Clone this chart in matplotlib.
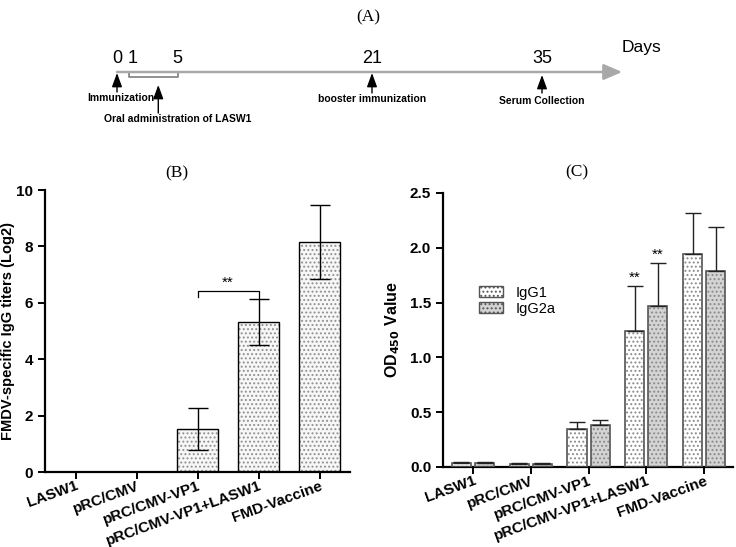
import numpy as np
import matplotlib
matplotlib.use("Agg")
import matplotlib.pyplot as plt
from matplotlib.patches import Patch

# ---------------- dados ----------------
# (A) linha do tempo
days = [0, 1, 5, 21, 35]
events = ["Immunization", "Oral administration of LASW1", "booster immunization", "Serum Collection"]

# (B) titulos de IgG
groups = ["LASW1", "pRC/CMV", "pRC/CMV-VP1", "pRC/CMV-VP1+LASW1", "FMD-Vaccine"]
igg_mean = [0.0, 0.0, 1.52, 5.32, 8.16]
igg_err = [0.0, 0.0, 0.74, 0.81, 1.31]

# (C) OD450
igg1_mean = [0.04, 0.03, 0.35, 1.24, 1.94]
igg1_err = [0.01, 0.005, 0.06, 0.41, 0.38]
igg2a_mean = [0.04, 0.03, 0.38, 1.47, 1.79]
igg2a_err = [0.01, 0.005, 0.05, 0.39, 0.40]

plt.rcParams['font.family'] = ['Liberation Sans', 'DejaVu Sans']
plt.rcParams['hatch.linewidth'] = 0.9
serif = 'Liberation Serif'

fig = plt.figure(figsize=(7.36, 5.47), dpi=100)
W, H = 736, 547


def fax(l, t, r, b):
    return fig.add_axes([l / W, 1 - b / H, (r - l) / W, (b - t) / H])


# ---------------- (A) ----------------
fig.text(368 / W, 1 - 17 / H, "(A)", family=serif, fontsize=12.5, ha='center', va='center')
axA = fax(117, 40, 542, 130)
axA.set_xlim(days[0], days[-1])
axA.set_ylim(130, 40)
axA.axis('off')

axA.annotate("", xy=(41.6, 72), xytext=(days[0], 72),
             arrowprops=dict(arrowstyle='-|>,head_length=0.7,head_width=0.3', color='#a8a8a8',
                             lw=1.8, mutation_scale=16, shrinkA=0, shrinkB=0),
             annotation_clip=False)
axA.text(43.2, 47, "Days", fontsize=12.5, ha='center', va='center', clip_on=False)
for i, d in enumerate(days):
    dx = 0.25 if d == 1 else 0
    axA.text(d + dx, 58, str(d), fontsize=13, ha='center', va='center', clip_on=False)

# colchete dias 1-5
axA.plot([days[1], days[1], days[2], days[2]], [73, 77, 77, 73], color='#888888', lw=1.3, clip_on=False)

arrow_kw = dict(arrowstyle='-|>,head_length=0.6,head_width=0.22', color='black', lw=1.0,
                mutation_scale=14, shrinkA=0, shrinkB=0)
arr_x = [days[0], (days[1] + days[2]) / 2 + 0.4, days[3], days[4]]
arr_top = [73, 85, 73, 75]
arr_bot = [92, 113, 93, 93]
for x, yt, yb in zip(arr_x, arr_top, arr_bot):
    axA.annotate("", xy=(x, yt), xytext=(x, yb), arrowprops=arrow_kw, annotation_clip=False)

axA.text(0.3, 98, events[0], fontsize=7.5, fontweight='bold', ha='center', va='center', clip_on=False)
axA.text(5.0, 119, events[1], fontsize=7.5, fontweight='bold', ha='center', va='center', clip_on=False)
axA.text(days[3], 99, events[2], fontsize=7.5, fontweight='bold', ha='center', va='center', clip_on=False)
axA.text(days[4], 101, events[3], fontsize=7.5, fontweight='bold', ha='center', va='center', clip_on=False)


def style_axis(ax):
    for s in ['top', 'right']:
        ax.spines[s].set_visible(False)
    for s in ['left', 'bottom']:
        ax.spines[s].set_linewidth(1.6)
    ax.tick_params(width=1.4, length=5, labelsize=11)
    ax.tick_params(axis='x', pad=0)
    for t in ax.get_yticklabels():
        t.set_fontweight('bold')


def hatched_bars(ax, x, h, w, face, dotc, edge, elw):
    ax.bar(x, h, w, color=face, edgecolor=dotc, linewidth=0, hatch='....', zorder=2)
    ax.bar(x, h, w, fill=False, edgecolor=edge, linewidth=elw, zorder=3)


# ---------------- (B) ----------------
fig.text(177 / W, 1 - 173 / H, "(B)", family=serif, fontsize=12.5, ha='center', va='center')
axB = fax(45, 190, 350, 472)
xb = np.arange(len(groups))
hatched_bars(axB, xb, igg_mean, 0.67, '#f7f7f7', '#909090', 'black', 1.0)
axB.errorbar(xb[2:], igg_mean[2:], yerr=igg_err[2:], fmt='none', ecolor='black',
             elinewidth=1.0, capsize=7.5, capthick=1.0, zorder=4)
axB.set_xlim(-0.5, 4.5)
axB.set_ylim(0, 10)
axB.set_yticks([0, 2, 4, 6, 8, 10])
axB.set_xticks(xb)
axB.set_xticklabels(groups, rotation=20, ha='right', rotation_mode='anchor',
                    fontsize=8.6, fontweight='bold')
axB.set_ylabel("FMDV-specific IgG titers (Log2)", fontsize=10.5, fontweight='bold')
axB.yaxis.set_label_coords(-0.098, 0.5)
style_axis(axB)
# significancia
axB.plot([xb[2], xb[2], xb[3], xb[3]], [6.2, 6.42, 6.42, 6.15], color='black', lw=0.9)
axB.text((xb[2] + xb[3]) / 2, 6.45, "**", ha='center', va='bottom', fontsize=11)

# ---------------- (C) ----------------
fig.text(577 / W, 1 - 172 / H, "(C)", family=serif, fontsize=12.5, ha='center', va='center')
axC = fax(443, 193, 733, 467)
xc = np.arange(len(groups))
off, bw = 0.2, 0.33
hatched_bars(axC, xc - off, igg1_mean, bw, 'white', '#8a8a8a', '#555555', 1.2)
hatched_bars(axC, xc + off, igg2a_mean, bw, '#d4d4d4', '#8a8a8a', '#555555', 1.2)
axC.errorbar(xc - off, igg1_mean, yerr=[np.zeros(5), igg1_err], fmt='none', ecolor='#222222',
             elinewidth=1.0, capsize=5.5, capthick=1.0, zorder=4)
axC.errorbar(xc + off, igg2a_mean, yerr=[np.zeros(5), igg2a_err], fmt='none', ecolor='#222222',
             elinewidth=1.0, capsize=5.5, capthick=1.0, zorder=4)
axC.text(xc[3] - off, igg1_mean[3] + igg1_err[3] + 0.01, "**", ha='center', va='bottom', fontsize=11)
axC.text(xc[3] + off, igg2a_mean[3] + igg2a_err[3] + 0.01, "**", ha='center', va='bottom', fontsize=11)
axC.set_xlim(-0.52, 4.5)
axC.set_ylim(0, 2.5)
axC.set_yticks([0, 0.5, 1.0, 1.5, 2.0, 2.5])
axC.set_yticklabels(["0.0", "0.5", "1.0", "1.5", "2.0", "2.5"])
axC.set_xticks(xc)
axC.set_xticklabels(groups, rotation=20, ha='right', rotation_mode='anchor',
                    fontsize=9, fontweight='bold')
axC.set_ylabel("OD$_{\\mathbf{450}}$ Value", fontsize=11.5, fontweight='bold')
axC.yaxis.set_label_coords(-0.14, 0.5)
style_axis(axC)

leg_h = [Patch(facecolor='white', edgecolor='#555555', hatch='....'),
         Patch(facecolor='#d4d4d4', edgecolor='#555555', hatch='....')]
axC.legend(leg_h, ["IgG1", "IgG2a"], loc='upper left', bbox_to_anchor=(0.08, 0.71),
           frameon=False, fontsize=10.5, handlelength=1.6, handleheight=0.75,
           labelspacing=0.15, handletextpad=0.9)

plt.savefig("out.png", dpi=100)
